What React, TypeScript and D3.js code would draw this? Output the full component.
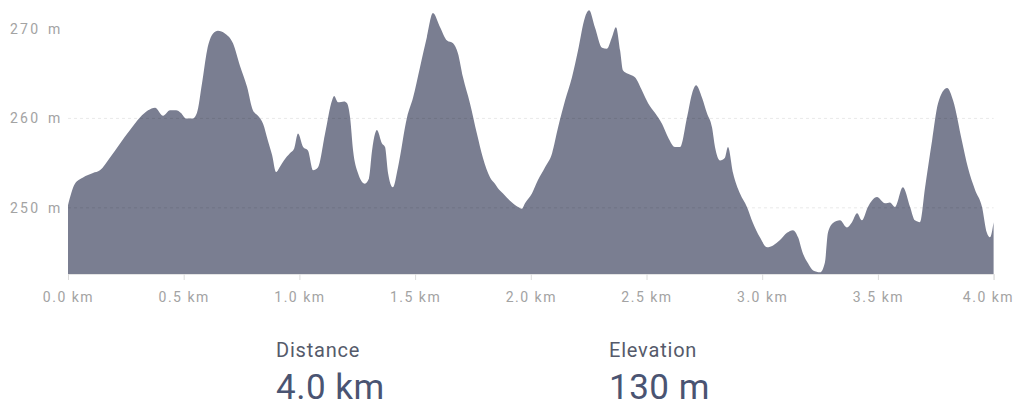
import { useRef, useEffect } from "react";
import * as d3 from "d3";

// distance along the route (km)
const distanceKm = [
  0.0, 0.03, 0.065, 0.108, 0.138, 0.181, 0.225, 0.268, 0.311, 0.346, 0.376, 0.411, 0.441, 0.467, 0.488,
  0.51, 0.54, 0.557, 0.579, 0.601, 0.627, 0.648, 0.678, 0.713, 0.743, 0.774, 0.799, 0.821, 0.843, 0.864,
  0.882, 0.899, 0.916, 0.933, 0.959, 0.977, 0.994, 1.016, 1.037, 1.059, 1.08, 1.111, 1.141, 1.15, 1.167,
  1.193, 1.206, 1.219, 1.232, 1.253, 1.283, 1.301, 1.314, 1.327, 1.335, 1.357, 1.37, 1.383, 1.404, 1.426,
  1.465, 1.491, 1.521, 1.551, 1.577, 1.608, 1.638, 1.664, 1.685, 1.707, 1.737, 1.767, 1.793, 1.824, 1.845,
  1.858, 1.88, 1.91, 1.945, 1.962, 1.975, 2.005, 2.031, 2.061, 2.092, 2.118, 2.148, 2.178, 2.204, 2.234,
  2.252, 2.277, 2.308, 2.329, 2.351, 2.368, 2.386, 2.398, 2.42, 2.45, 2.481, 2.507, 2.537, 2.567, 2.593,
  2.623, 2.645, 2.675, 2.697, 2.714, 2.74, 2.761, 2.783, 2.796, 2.818, 2.839, 2.852, 2.874, 2.904, 2.934,
  2.96, 2.99, 3.021, 3.047, 3.077, 3.107, 3.133, 3.155, 3.176, 3.198, 3.22, 3.25, 3.271, 3.284, 3.306,
  3.336, 3.366, 3.388, 3.41, 3.431, 3.457, 3.496, 3.531, 3.552, 3.574, 3.608, 3.639, 3.66, 3.682, 3.704,
  3.734, 3.76, 3.799, 3.825, 3.863, 3.889, 3.92, 3.95, 3.971, 3.984, 4.0,
];

// elevation at each distance (m)
const elevationM = [
  250.3, 252.7, 253.4, 253.9, 254.2, 255.6, 257.2, 258.7, 260.1, 260.9, 261.2, 260.3, 260.9, 260.9, 260.6,
  260.0, 260.0, 260.6, 263.9, 267.6, 269.5, 269.8, 269.5, 268.4, 265.9, 263.5, 260.9, 260.3, 259.4, 257.5,
  255.9, 254.0, 254.6, 255.3, 256.1, 256.6, 258.3, 256.8, 256.4, 254.2, 254.5, 258.3, 262.0, 262.5, 261.8,
  261.9, 261.7, 260.1, 256.4, 253.9, 252.7, 253.3, 256.4, 258.3, 258.7, 257.2, 256.8, 253.9, 252.3, 254.5,
  260.1, 262.3, 265.7, 269.1, 271.8, 270.2, 268.7, 268.4, 267.3, 264.6, 261.7, 258.3, 255.6, 253.4, 252.7,
  252.2, 251.6, 250.8, 250.1, 249.9, 250.5, 251.6, 253.1, 254.5, 256.1, 259.0, 262.0, 264.6, 267.6, 271.3,
  272.1, 270.2, 267.9, 267.8, 269.1, 270.2, 267.6, 265.4, 265.0, 264.6, 263.1, 261.7, 260.6, 259.4, 257.9,
  256.8, 256.8, 260.1, 262.8, 263.7, 262.3, 260.6, 259.0, 256.8, 255.3, 255.6, 256.8, 253.9, 251.6, 250.1,
  248.3, 246.7, 245.6, 245.8, 246.4, 247.2, 247.5, 246.7, 244.9, 243.8, 243.0, 242.8, 243.9, 247.2, 248.3,
  248.6, 247.8, 248.4, 249.4, 248.6, 250.1, 251.2, 250.5, 250.6, 250.1, 252.3, 250.1, 248.6, 248.4, 252.3,
  257.5, 261.7, 263.4, 262.0, 257.5, 254.5, 252.0, 250.1, 247.2, 246.7, 248.4,
];

const xTicks = [0, 0.5, 1, 1.5, 2, 2.5, 3, 3.5, 4];
const yTicks = [250, 260, 270];

const summaryLabels = ["Distance", "Elevation"];
const summaryValues = ["4.0 km", "130 m"];

const App = () => {
  const svgRef = useRef<SVGSVGElement | null>(null);
  const width = 1016;
  const height = 407;

  useEffect(() => {
    if (!svgRef.current) return;
    const svg = d3.select(svgRef.current);
    svg.selectAll("*").remove();

    const x = d3.scaleLinear().domain([0, 4]).range([68, 993.6]);
    const yMin = 242.6;
    const y = d3.scaleLinear().domain([yMin, 270]).range([274, 29]);

    const data = distanceKm.map((d, i) => ({ d, e: elevationM[i] }));

    const area = d3.area<{ d: number; e: number }>()
      .x(p => x(p.d))
      .y0(y(yMin))
      .y1(p => y(p.e))
      .curve(d3.curveMonotoneX);

    svg.append("path")
      .datum(data)
      .attr("d", area)
      .attr("fill", "#7a7e91");

    // faint dashed grid on top of the area
    svg.selectAll(".grid")
      .data(yTicks.filter(t => t < 270))
      .enter()
      .append("line")
      .attr("x1", 68)
      .attr("x2", 993.6)
      .attr("y1", d => y(d))
      .attr("y2", d => y(d))
      .attr("stroke", "rgba(0,0,0,0.09)")
      .attr("stroke-dasharray", "3,3");

    // y labels
    svg.selectAll(".ylab")
      .data(yTicks)
      .enter()
      .append("text")
      .attr("x", 10)
      .attr("y", d => y(d) + 5)
      .attr("font-family", "Roboto, sans-serif")
      .attr("font-size", 14)
      .attr("letter-spacing", 2.2)
      .attr("word-spacing", 2)
      .attr("fill", "#a3a3a3")
      .text(d => `${d} m`);

    // x axis
    const xAxis = svg.append("g")
      .attr("transform", `translate(0,${y(yMin)})`)
      .call(d3.axisBottom(x).tickValues(xTicks).tickSize(6).tickFormat(d => `${(+d).toFixed(1)} km`));
    xAxis.select(".domain").attr("stroke", "#e4e4e4");
    xAxis.selectAll(".tick line").attr("stroke", "#dcdcdc");
    xAxis.selectAll<SVGTextElement, number>(".tick text")
      .attr("y", 18)
      .attr("font-family", "Roboto, sans-serif")
      .attr("font-size", 14)
      .attr("letter-spacing", 1.5)
      .attr("fill", "#a3a3a3")
      .attr("text-anchor", d => (d === 4 ? "end" : "middle"))
      .attr("dx", d => (d === 4 ? 20 : 0));

    // summary
    const sx = [276, 609];
    summaryLabels.forEach((lab, i) => {
      svg.append("text")
        .attr("x", sx[i])
        .attr("y", 357)
        .attr("font-family", "Roboto, sans-serif")
        .attr("font-size", 20)
        .attr("letter-spacing", 0.8)
        .attr("fill", "#555a6a")
        .text(lab);
      svg.append("text")
        .attr("x", sx[i])
        .attr("y", 399)
        .attr("font-family", "Roboto, sans-serif")
        .attr("font-size", 35)
        .attr("letter-spacing", 0.5)
        .attr("fill", "#4a5472")
        .text(summaryValues[i]);
    });
  }, []);

  return (
    <div style={{ position: "absolute", left: 0, top: 0 }}>
      <svg ref={svgRef} width={width} height={height} style={{ display: "block", background: "#fff" }}></svg>
    </div>
  );
};

export default App;
